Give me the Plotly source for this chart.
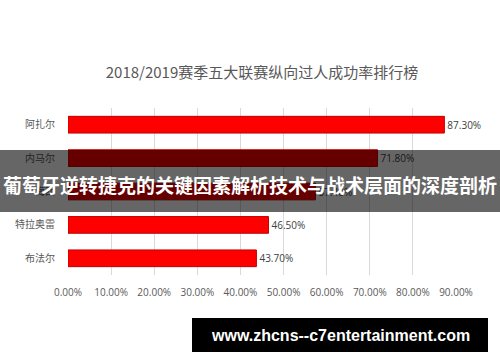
import plotly.graph_objects as go

players = ["阿扎尔", "内马尔", "梅西", "特拉奥雷", "布法尔"]
rates = [0.873, 0.718, 0.574, 0.465, 0.437]
tick_vals = [0, 0.1, 0.2, 0.3, 0.4, 0.5, 0.6, 0.7, 0.8, 0.9]
tick_text = ["0.00%", "10.00%", "20.00%", "30.00%", "40.00%", "50.00%",
             "60.00%", "70.00%", "80.00%", "90.00%"]
title_text = "2018/2019赛季五大联赛纵向过人成功率排行榜"
banner_text = "葡萄牙逆转捷克的关键因素解析技术与战术层面的深度剖析"
watermark_text = "www.zhcns--c7entertainment.com"

CJK = "Noto Sans CJK SC"

fig = go.Figure(go.Bar(
    y=players, x=rates, orientation="h",
    marker=dict(color="#FF0000", line=dict(color="#C00000", width=1)),
    width=0.5,
    text=[f"{v*100:.2f}%" for v in rates],
    textposition="outside",
    textfont=dict(size=10, color="#404040", family="Open Sans, " + CJK),
    cliponaxis=False,
))

fig.update_layout(
    width=500, height=362,
    margin=dict(l=68, r=44, t=108, b=87, autoexpand=False),
    paper_bgcolor="white", plot_bgcolor="white",
    showlegend=False,
    title=dict(text=title_text, x=0.5, xanchor="center", xref="paper",
               y=1 - 73 / 362, yanchor="middle", yref="container",
               font=dict(size=15, color="#595959", family=CJK)),
    xaxis=dict(range=[0, 0.9], tickvals=tick_vals, ticktext=tick_text,
               automargin=False,
               showgrid=True, gridcolor="#D9D9D9", gridwidth=1,
               zeroline=False, showline=False,
               ticks="outside", ticklen=8, tickcolor="rgba(0,0,0,0)",
               tickfont=dict(size=10, color="#595959", family="Open Sans, " + CJK)),
    yaxis=dict(autorange="reversed", showgrid=False, showline=False,
               automargin=False,
               ticks="outside", ticklen=10, tickcolor="rgba(0,0,0,0)",
               tickfont=dict(size=10, color="#595959", family=CJK)),
)

plot_w = 500 - 68 - 44
plot_h = 362 - 108 - 87

def px_x(p):
    return (p - 68) / plot_w

def px_y(p):
    return (362 - 87 - p) / plot_h

fig.add_shape(type="rect", xref="paper", yref="paper",
              x0=px_x(0), x1=px_x(500), y0=px_y(212), y1=px_y(150),
              fillcolor="rgba(0,0,0,0.6)", line=dict(width=0), layer="above")
fig.add_annotation(text=banner_text, xref="paper", yref="paper",
                   x=px_x(250), y=px_y(184), showarrow=False,
                   xanchor="center", yanchor="middle",
                   font=dict(size=19, color="white", family=CJK, weight="bold"))

fig.add_shape(type="rect", xref="paper", yref="paper",
              x0=px_x(192), x1=px_x(488), y0=px_y(352), y1=px_y(318),
              fillcolor="black", line=dict(width=0), layer="above")
fig.add_annotation(text=watermark_text, xref="paper", yref="paper",
                   x=px_x(340), y=px_y(335), showarrow=False,
                   xanchor="center", yanchor="middle",
                   font=dict(size=16, color="white",
                             family="Liberation Sans, Arial", weight="bold"))

fig.write_html("out.html", config={"displayModeBar": False},
               post_script="document.body.style.margin='0';document.body.style.overflow='hidden';")
